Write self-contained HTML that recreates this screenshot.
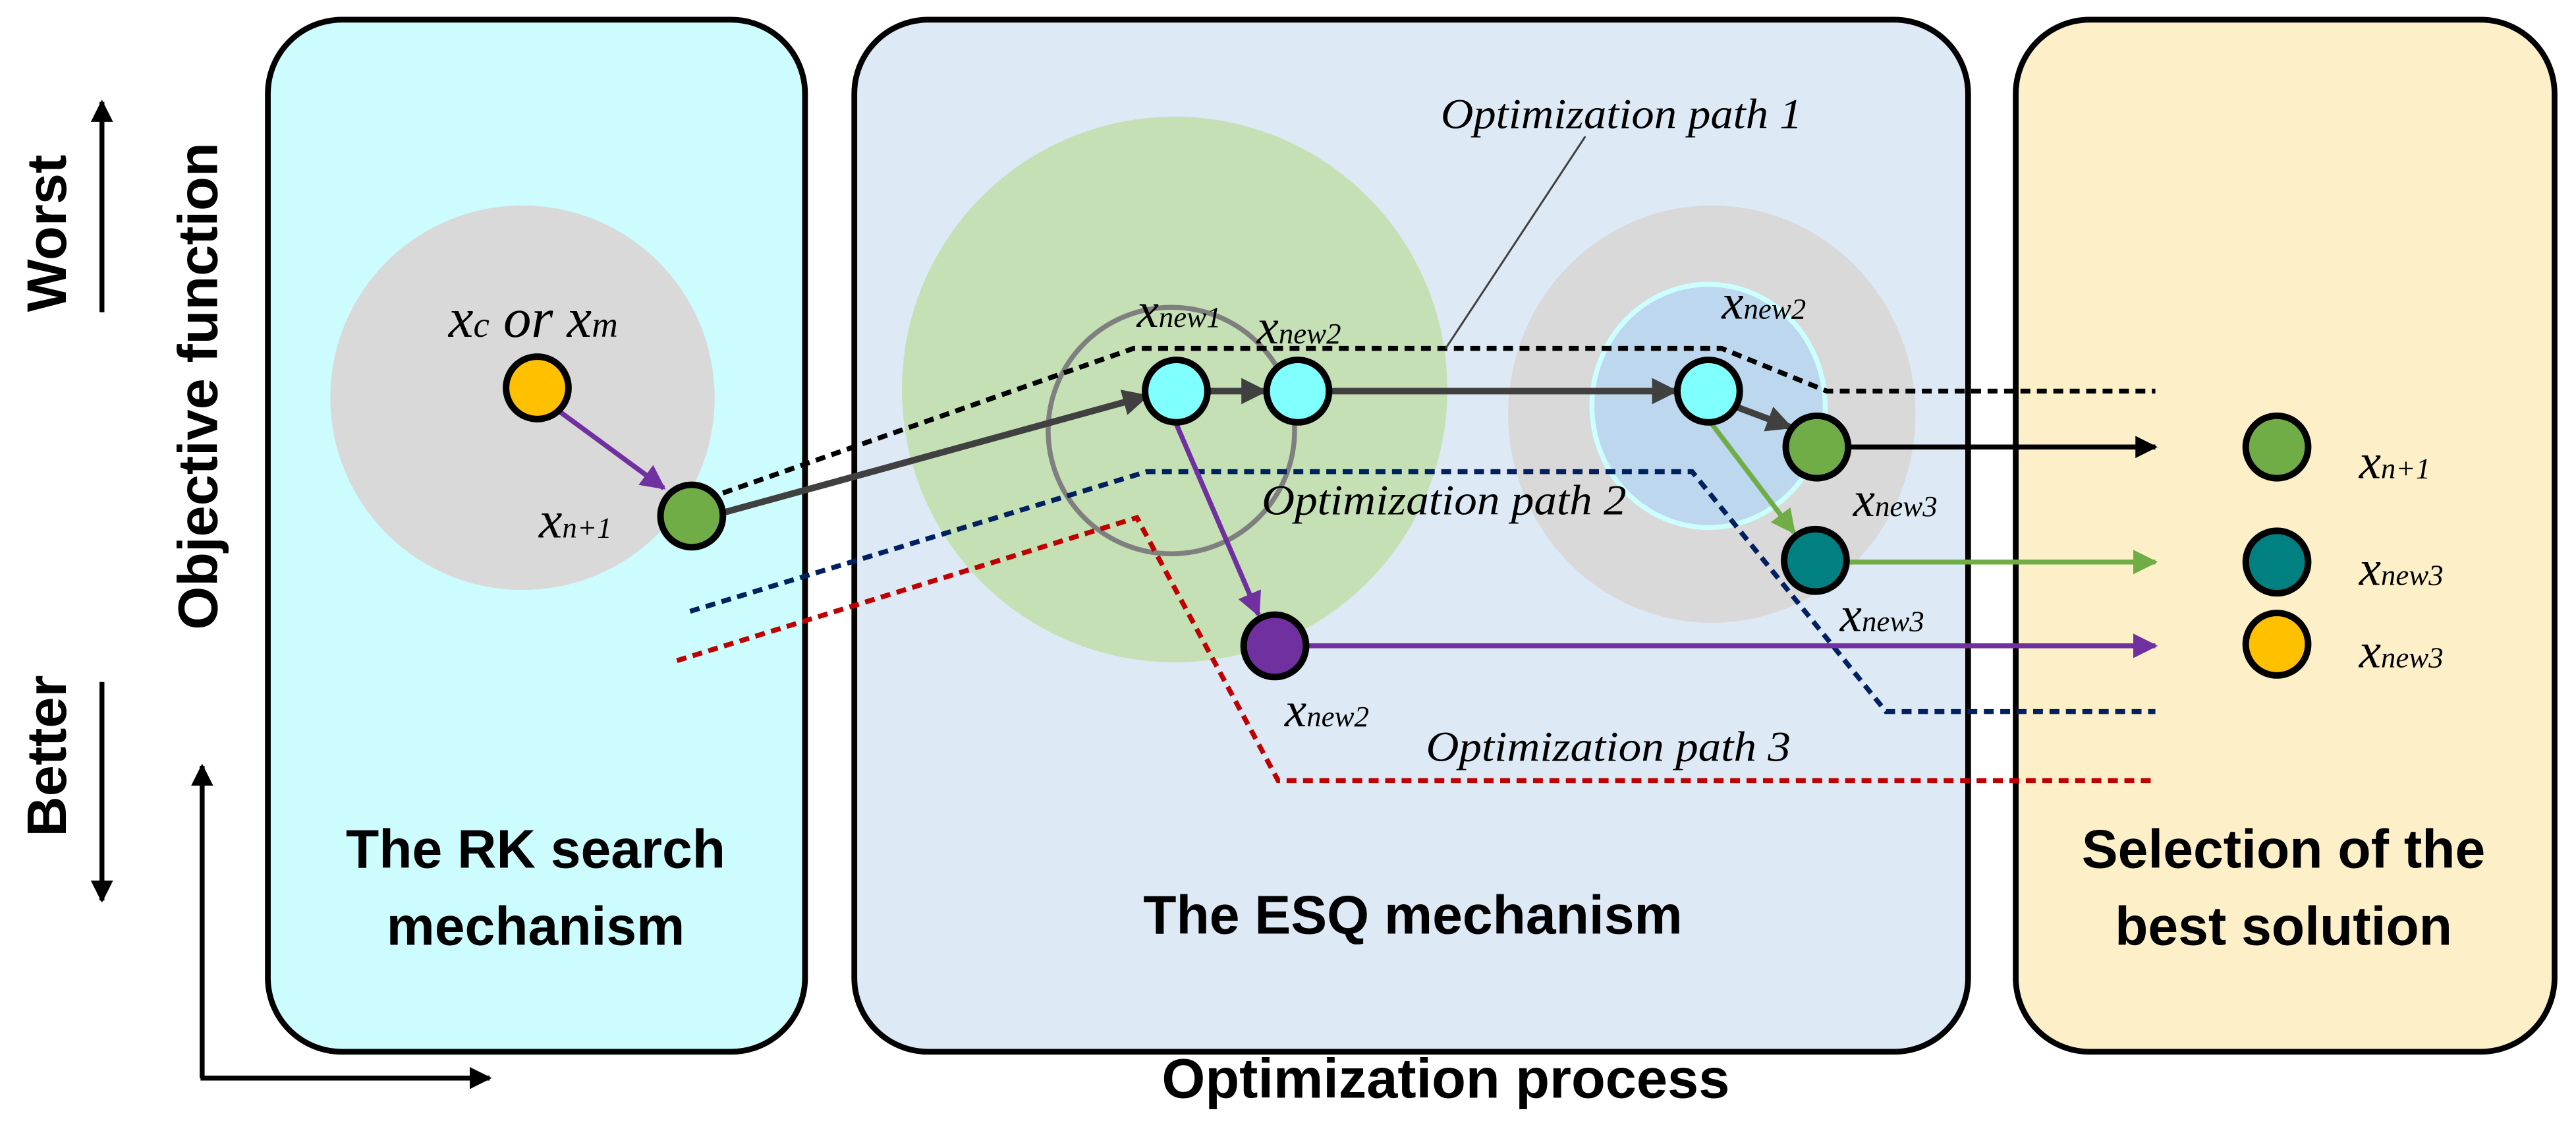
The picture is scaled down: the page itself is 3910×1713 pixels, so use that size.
<!DOCTYPE html>
<html><head><meta charset="utf-8"><style>html,body{margin:0;padding:0;background:#fff}svg{display:block}</style></head>
<body>
<svg width="3910" height="1713" viewBox="0 0 1568 687" xmlns="http://www.w3.org/2000/svg">
<defs>
<marker id="aK" viewBox="0 0 10 10" refX="9" refY="5" markerWidth="4.5" markerHeight="4.5" orient="auto"><path d="M0,0L10,5L0,10z" fill="#000"/></marker>
<marker id="aD" viewBox="0 0 10 10" refX="9" refY="5" markerWidth="4" markerHeight="4" orient="auto"><path d="M0,0L10,5L0,10z" fill="#404040"/></marker>
<marker id="aP" viewBox="0 0 10 10" refX="9" refY="5" markerWidth="5" markerHeight="5" orient="auto"><path d="M0,0L10,5L0,10z" fill="#7030a0"/></marker>
<marker id="aG" viewBox="0 0 10 10" refX="9" refY="5" markerWidth="5" markerHeight="5" orient="auto"><path d="M0,0L10,5L0,10z" fill="#70ad47"/></marker>
</defs>
<rect x="163" y="12" width="327" height="628" rx="45" fill="#ccfcfd" stroke="#000" stroke-width="3.5"/>
<rect x="520" y="12" width="678" height="628" rx="45" fill="#dde9f5" stroke="#000" stroke-width="3.5"/>
<rect x="1227" y="12" width="328" height="628" rx="45" fill="#fdf0c8" stroke="#000" stroke-width="3.5"/>
<circle cx="318" cy="242" r="117" fill="#d9d9d9"/>
<circle cx="715" cy="237" r="166" fill="#c5e0b4"/>
<circle cx="713" cy="262" r="75" fill="none" stroke="#7f7f7f" stroke-width="3"/>
<ellipse cx="1042" cy="252" rx="124" ry="127" fill="#d9d9d9"/>
<ellipse cx="1040" cy="247" rx="71" ry="74" fill="#bdd7ee" stroke="#ccffff" stroke-width="3"/>
<g fill="none" stroke-width="3" stroke-dasharray="6,4">
<polyline points="440,300 690,212 1048,212 1112,238 1312,238" stroke="#000"/>
<polyline points="420,372 698,287 1030,287 1148,433 1312,433" stroke="#002060"/>
<polyline points="412,402 692,315 778,475 1312,475" stroke="#c00000"/>
</g>
<line x1="880" y1="212" x2="965" y2="83" stroke="#404040" stroke-width="1.2"/>
<g stroke-width="3" fill="none">
<line x1="340" y1="250" x2="404" y2="297" stroke="#7030a0" marker-end="url(#aP)"/>
<line x1="440" y1="312" x2="698" y2="241" stroke="#404040" stroke-width="4" marker-end="url(#aD)"/>
<line x1="736" y1="238" x2="770" y2="238" stroke="#404040" stroke-width="4" marker-end="url(#aD)"/>
<line x1="810" y1="238" x2="1020" y2="238" stroke="#404040" stroke-width="4" marker-end="url(#aD)"/>
<line x1="1058" y1="248" x2="1090" y2="260" stroke="#404040" stroke-width="4" marker-end="url(#aD)"/>
<line x1="1126" y1="272" x2="1312" y2="272" stroke="#000" marker-end="url(#aK)"/>
<line x1="1042" y1="258" x2="1092" y2="324" stroke="#70ad47" marker-end="url(#aG)"/>
<line x1="1125" y1="342" x2="1312" y2="342" stroke="#70ad47" marker-end="url(#aG)"/>
<line x1="716" y1="258" x2="766" y2="374" stroke="#7030a0" marker-end="url(#aP)"/>
<line x1="796" y1="393" x2="1312" y2="393" stroke="#7030a0" marker-end="url(#aP)"/>
</g>
<g stroke="#000" stroke-width="4">
<circle cx="327" cy="236" r="19" fill="#ffc000"/>
<circle cx="421" cy="314" r="19" fill="#70ad47"/>
<circle cx="716" cy="238" r="19" fill="#80ffff"/>
<circle cx="790" cy="238" r="19" fill="#80ffff"/>
<circle cx="1040" cy="238" r="19" fill="#80ffff"/>
<circle cx="1106" cy="272" r="19" fill="#70ad47"/>
<circle cx="1105" cy="341" r="19" fill="#008080"/>
<circle cx="776" cy="393" r="19" fill="#7030a0"/>
<circle cx="1386" cy="272" r="19" fill="#70ad47"/>
<circle cx="1386" cy="342" r="19" fill="#008080"/>
<circle cx="1386" cy="392" r="19" fill="#ffc000"/>
</g>
<g font-family="Liberation Serif, serif" font-style="italic" fill="#000">
<text x="273" y="205" font-size="34">x<tspan font-size="22">c</tspan> or x<tspan font-size="22">m</tspan></text>
<text x="328" y="327" font-size="32">x<tspan font-size="18">n+1</tspan></text>
<text x="692" y="199" font-size="30">x<tspan font-size="18">new1</tspan></text>
<text x="765" y="209" font-size="30">x<tspan font-size="18">new2</tspan></text>
<text x="1048" y="194" font-size="30">x<tspan font-size="18">new2</tspan></text>
<text x="1128" y="314" font-size="30">x<tspan font-size="18">new3</tspan></text>
<text x="1120" y="384" font-size="30">x<tspan font-size="18">new3</tspan></text>
<text x="782" y="442" font-size="30">x<tspan font-size="18">new2</tspan></text>
<text x="1436" y="291" font-size="30">x<tspan font-size="18">n+1</tspan></text>
<text x="1436" y="356" font-size="30">x<tspan font-size="18">new3</tspan></text>
<text x="1436" y="406" font-size="30">x<tspan font-size="18">new3</tspan></text>
<text x="877" y="78" font-size="26" textLength="220" lengthAdjust="spacingAndGlyphs">Optimization path 1</text>
<text x="768" y="313" font-size="26" textLength="222" lengthAdjust="spacingAndGlyphs">Optimization path 2</text>
<text x="868" y="463" font-size="26" textLength="222" lengthAdjust="spacingAndGlyphs">Optimization path 3</text>
</g>
<g font-family="Liberation Sans, sans-serif" font-weight="bold" fill="#000" font-size="33" text-anchor="middle">
<text x="326" y="528">The RK search</text>
<text x="326" y="575">mechanism</text>
<text x="860" y="568">The ESQ mechanism</text>
<text x="1390" y="528">Selection of the</text>
<text x="1390" y="575">best solution</text>
<text x="880" y="668" font-size="34">Optimization process</text>
<text transform="translate(40,142) rotate(-90)" font-size="34">Worst</text>
<text transform="translate(40,460) rotate(-90)" font-size="34">Better</text>
<text transform="translate(132,235) rotate(-90)" font-size="34">Objective function</text>
</g>
<g stroke="#000" stroke-width="3">
<line x1="62" y1="190" x2="62" y2="62" marker-end="url(#aK)"/>
<line x1="62" y1="415" x2="62" y2="548" marker-end="url(#aK)"/>
<line x1="123" y1="656" x2="123" y2="466" marker-end="url(#aK)"/>
<line x1="122" y1="656" x2="298" y2="656" marker-end="url(#aK)"/>
</g>
</svg>
</body></html>
